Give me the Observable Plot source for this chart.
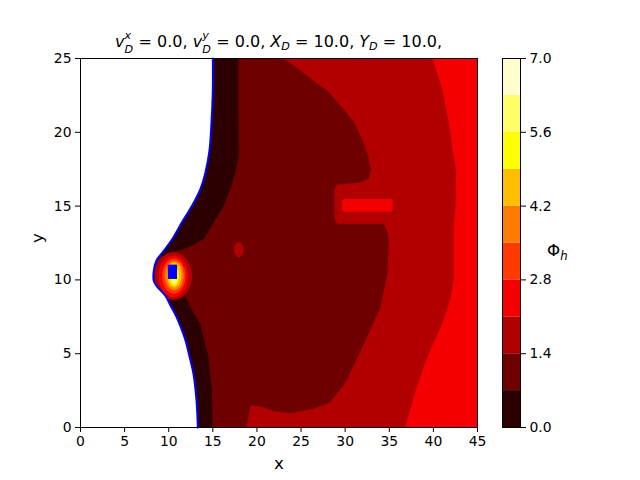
<!DOCTYPE html>
<html><head><meta charset="utf-8">
<script src="https://cdn.jsdelivr.net/npm/d3@7"></script>
<script src="https://cdn.jsdelivr.net/npm/@observablehq/plot@0.6"></script>
<style>
body{margin:0;background:#fff;}
#wrap{position:relative;width:640px;height:480px;font-family:"DejaVu Sans";color:#000;}
.abs{position:absolute;}
#title{left:0;width:557px;top:32px;text-align:center;font-size:16px;line-height:20px;white-space:nowrap;}
.ss{display:inline-block;position:relative;width:9px;height:1em;font-size:70%;font-style:italic;}
.ss .sup{position:absolute;left:0;top:-0.5em;line-height:1;}
.ss .sub{position:absolute;left:0;top:0.72em;line-height:1;}
.sb{font-size:70%;font-style:italic;position:relative;top:0.3em;line-height:0;}
#cblabel{left:547px;top:240px;font-size:16.7px;line-height:20px;}
</style>
</head><body><div id="wrap"></div>
<script>
// ---- data ----
const levels = [0, 0.7, 1.4, 2.1, 2.8, 3.5, 4.2, 4.9, 5.6, 6.3, 7.0];
const levelColors = ["#2c0000","#6f0000","#b20000","#f50000","#ff3900","#ff7c00","#ffbf00","#ffff04","#ffff68","#ffffcd"];
const cbarTicks = [0, 1.4, 2.8, 4.2, 5.6, 7.0];
const xTicks = [0, 5, 10, 15, 20, 25, 30, 35, 40, 45];
const yTicks = [0, 5, 10, 15, 20, 25];

// domain boundary (blue curve), top to bottom
const boundary = [[15.0,25],[15.0,22.9],[14.85,20.7],[14.62,18.77],[14.17,17.3],[13.6,16.17],[12.66,15.04],[11.5,13.9],[10.4,12.75],[9.4,11.94],[8.6,11.3],[8.3,10.6],[8.3,9.96],[8.6,9.6],[9.6,8.94],[10.2,8.27],[10.8,7.6],[11.3,6.9],[11.9,5.9],[12.4,4.7],[12.8,3.66],[13.15,1.83],[13.3,0]];

// level 0 (0-0.7) band, upper and lower parts
const band0Upper = [[0,25],[17.9,25],[17.95,18.4],[17.57,17.3],[17.0,16.17],[16.25,15.04],[15.1,13.9],[14.0,12.78],[12.6,12.3],[11.5,12.05],[10.5,11.9],[9.5,11.6],[0,11.6]];
const band0Lower = [[0,9.0],[9.8,8.95],[10.8,8.6],[11.7,9.06],[12.6,8.0],[13.6,7.0],[14.5,4.76],[14.9,2.5],[15.0,0],[0,0]];

// level 2 (1.4-2.1) region
const band2 = [[23.0,25],[24.9,24.2],[26.8,23.3],[28.0,22.8],[29.5,21.8],[31.0,20.7],[31.9,19.56],[32.6,18.4],[32.9,17.5],[32.7,16.85],[31.7,16.6],[29.1,16.45],[28.8,16.2],[28.8,14.1],[29.1,13.8],[34.4,13.8],[34.8,13.2],[34.95,12.67],[34.8,10.4],[34.0,8.15],[32.3,5.9],[31.2,4.5],[30.2,3.2],[28.3,1.7],[26.4,1.27],[23.8,0.97],[22.0,1.1],[20.4,1.42],[19.3,1.5],[18.8,0],[45,0],[45,25]];

// level 3 (2.1-2.8) region
const band3 = [[39.9,25],[41.0,22.95],[41.75,20.7],[42.3,18.4],[42.6,17.3],[42.5,15.0],[42.3,13.46],[42.3,9.96],[41.9,8.6],[41.0,7.03],[39.3,4.76],[38.0,2.5],[36.8,0],[45,0],[45,25]];

// level 3 bar inside the rectangle
const barX1 = 29.7, barX2 = 35.45, barY1 = 14.58, barY2 = 15.45;

// small level-2 spot
const spotLevel = 2, spotXL = 17.4, spotXR = 18.5, spotYB = 11.54, spotYT = 12.55;

// rings around the source: level, left, right, bottom, top
const ringLevel = [2, 3, 4, 5, 6, 7, 8];
const ringXL = [8.4, 8.85, 9.26, 9.56, 9.8, 10.1, 10.4];
const ringXR = [12.66, 12.2, 11.9, 11.7, 11.45, 11.15, 10.85];
const ringYB = [8.65, 8.83, 9.07, 9.28, 9.46, 9.6, 9.7];
const ringYT = [11.88, 11.65, 11.45, 11.3, 11.2, 10.9, 10.2];

// source marker
const srcX1 = 9.95, srcX2 = 11.0, srcY1 = 10.03, srcY2 = 11.0;

// ---- build ----
const px = d => d[0], py = d => d[1];
const poly = (pts, color) => Plot.line(pts, {x: px, y: py, fill: color, stroke: "none", curve: "linear"});
const ellipse = (l, r, b, t, color) => {
  const cx = (l + r) / 2, cy = (b + t) / 2;
  return Plot.line([[r, cy], [cx, t], [l, cy], [cx, b]], {x: px, y: py, fill: color, stroke: "none", curve: "cardinal-closed", tension: -0.657});
};

const marks = [
  Plot.frame({fill: levelColors[1], stroke: null}),
  poly(band0Upper, levelColors[0]),
  poly(band0Lower, levelColors[0]),
  poly(band2, levelColors[2]),
  ellipse(spotXL, spotXR, spotYB, spotYT, levelColors[spotLevel]),
  poly(band3, levelColors[3]),
  Plot.rect([0], {x1: () => barX1, x2: () => barX2, y1: () => barY1, y2: () => barY2, fill: levelColors[3], rx: 3})
];
ringLevel.forEach((lv, i) => marks.push(ellipse(ringXL[i], ringXR[i], ringYB[i], ringYT[i], levelColors[lv])));
marks.push(
  poly([[0, 25], ...boundary, [0, 0]], "white"),
  Plot.line(boundary, {x: px, y: py, stroke: "#0000ff", strokeWidth: 2, curve: "catmull-rom"}),
  Plot.rect([0], {x1: () => srcX1, x2: () => srcX2, y1: () => srcY1, y2: () => srcY2, fill: "#0000ff"}),
  Plot.frame({stroke: "black", strokeWidth: 1}),
  Plot.axisX({ticks: xTicks, tickSize: 5, tickPadding: 4, tickFormat: d => String(d), label: null}),
  Plot.axisY({ticks: yTicks, tickSize: 5, tickPadding: 4, tickFormat: d => String(d), label: null}),
  Plot.text(["x"], {frameAnchor: "bottom", dy: 41, fontSize: 16.7}),
  Plot.text(["y"], {frameAnchor: "left", dx: -43, rotate: -90, fontSize: 16.7})
);

const main = Plot.plot({
  width: 640, height: 480,
  marginLeft: 80, marginRight: 163, marginTop: 58, marginBottom: 53,
  x: {domain: [0, 45], label: null},
  y: {domain: [0, 25], label: null},
  style: {fontFamily: "DejaVu Sans", fontSize: "13.9px", color: "black", background: "transparent", overflow: "visible"},
  marks
});

const cells = levelColors.map((c, i) => ({lo: levels[i], hi: levels[i + 1], c}));
const cbar = Plot.plot({
  width: 138, height: 480,
  marginLeft: 0, marginRight: 120, marginTop: 58, marginBottom: 53,
  x: {domain: [0, 1], axis: null},
  y: {domain: [0, 7], label: null},
  style: {fontFamily: "DejaVu Sans", fontSize: "13.9px", color: "black", background: "transparent", overflow: "visible"},
  marks: [
    Plot.rect(cells, {x1: () => 0, x2: () => 1, y1: "lo", y2: "hi", fill: "c"}),
    Plot.frame({stroke: "black", strokeWidth: 1}),
    Plot.axisY({anchor: "right", ticks: cbarTicks, tickSize: 5, tickPadding: 4, tickFormat: d => d.toFixed(1), label: null})
  ]
});

const wrap = document.getElementById("wrap");
main.classList.add("abs"); main.style.left = "0px"; main.style.top = "0px";
cbar.classList.add("abs"); cbar.style.left = "502px"; cbar.style.top = "0px";
wrap.appendChild(main);
wrap.appendChild(cbar);

const stack = (sup, sub) => '<span class="ss"><span class="sup">' + sup + '</span><span class="sub">' + sub + '</span></span>';
const title = document.createElement("div");
title.id = "title"; title.className = "abs";
title.innerHTML = '<i>v</i>' + stack("x", "D") + ' = 0.0, ' +
  '<i>v</i>' + stack("y", "D") + ' = 0.0, ' +
  '<i>X</i><span class="sb">D</span> = 10.0, <i>Y</i><span class="sb">D</span> = 10.0,';
wrap.appendChild(title);

const cbl = document.createElement("div");
cbl.id = "cblabel"; cbl.className = "abs";
cbl.innerHTML = 'Φ<span class="sb">h</span>';
wrap.appendChild(cbl);
</script>
</body></html>
